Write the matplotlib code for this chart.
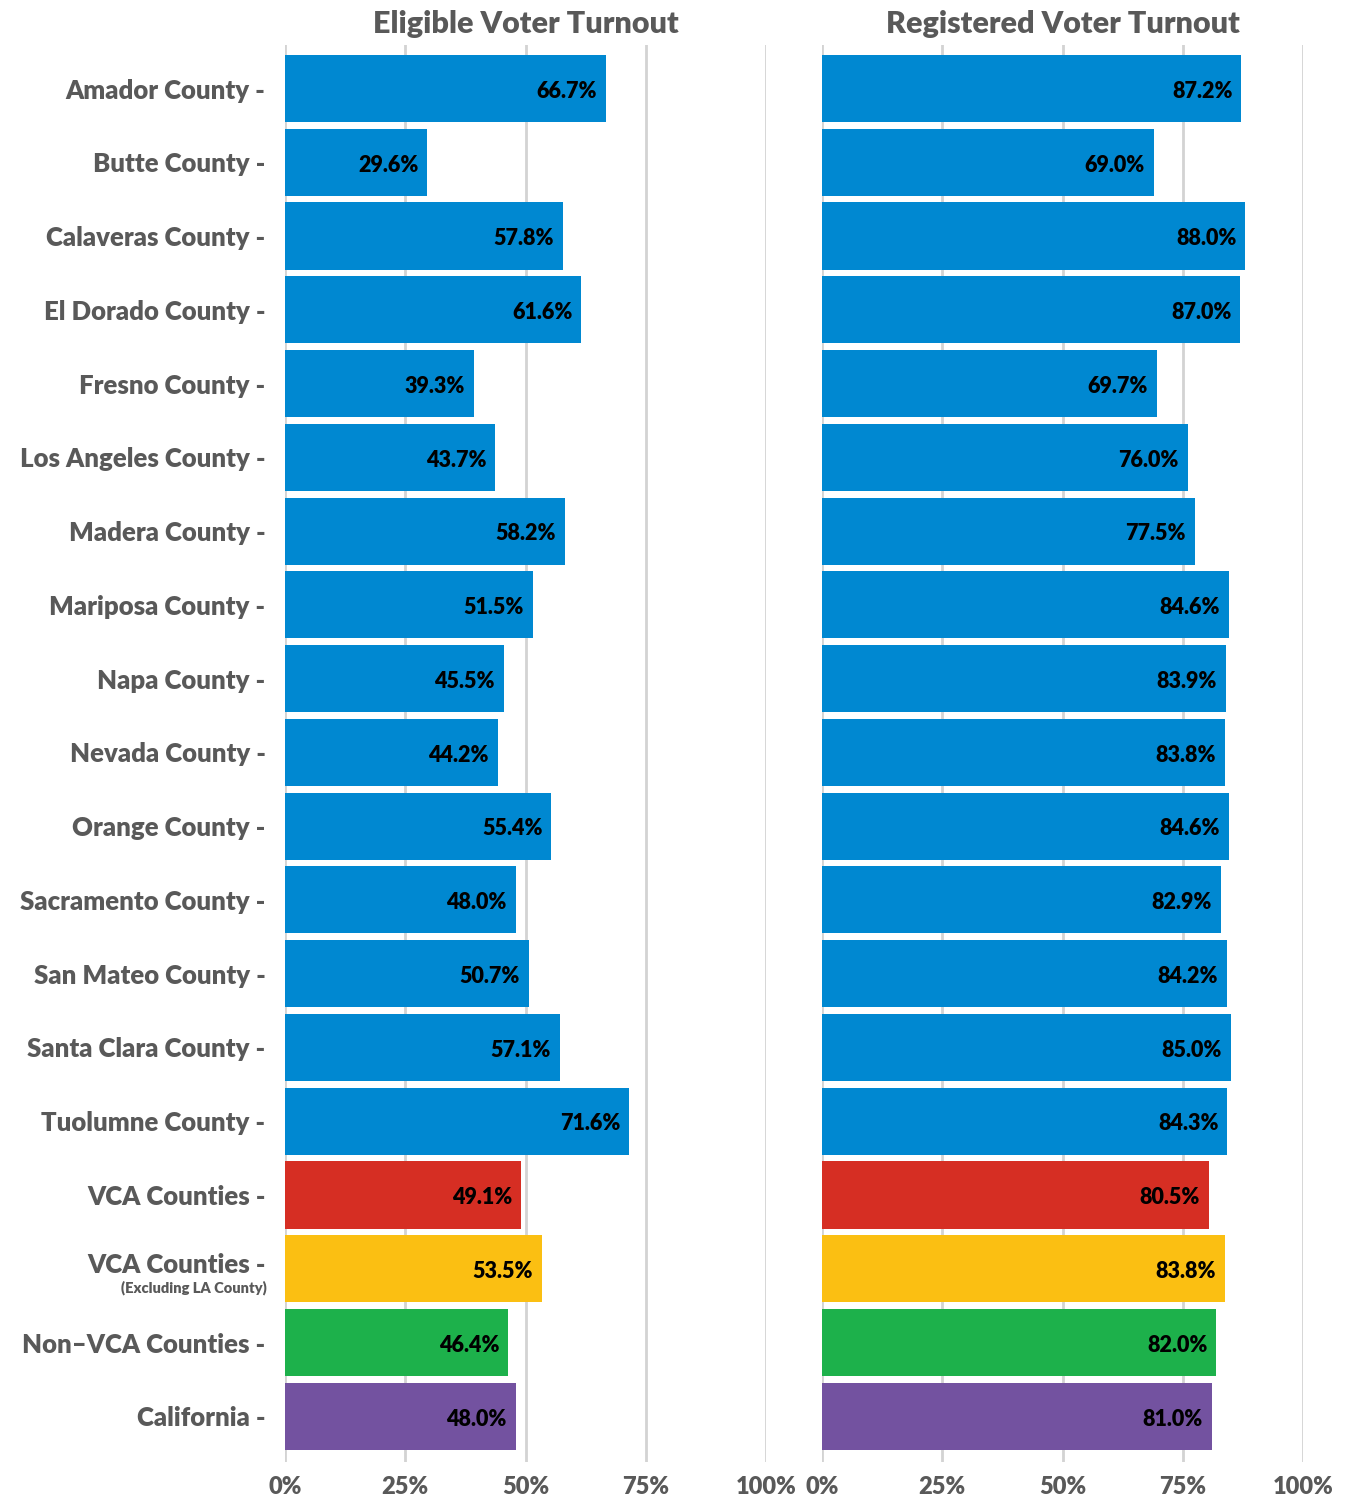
import matplotlib
matplotlib.use("Agg")
import matplotlib.pyplot as plt
from matplotlib.ticker import FixedLocator

categories = ["Amador County", "Butte County", "Calaveras County", "El Dorado County",
              "Fresno County", "Los Angeles County", "Madera County", "Mariposa County",
              "Napa County", "Nevada County", "Orange County", "Sacramento County",
              "San Mateo County", "Santa Clara County", "Tuolumne County", "VCA Counties",
              "VCA Counties", "Non\u2013VCA Counties", "California"]
sublabels = {16: "(Excluding LA County)"}
eligible = [66.7, 29.6, 57.8, 61.6, 39.3, 43.7, 58.2, 51.5, 45.5, 44.2, 55.4, 48.0,
            50.7, 57.1, 71.6, 49.1, 53.5, 46.4, 48.0]
registered = [87.2, 69.0, 88.0, 87.0, 69.7, 76.0, 77.5, 84.6, 83.9, 83.8, 84.6, 82.9,
              84.2, 85.0, 84.3, 80.5, 83.8, 82.0, 81.0]
titles = ["Eligible Voter Turnout", "Registered Voter Turnout"]
xticks = [0, 25, 50, 75, 100]
xticklabels = ["0%", "25%", "50%", "75%", "100%"]

BLUE, RED, YELLOW, GREEN, PURPLE = "#0088D1", "#D62E23", "#FBBF12", "#1DB14B", "#7352A0"
colors = [BLUE] * 15 + [RED, YELLOW, GREEN, PURPLE]
GRAY = "#595959"
FONT = "Lato"
W = "heavy"

fig = plt.figure(figsize=(13.45, 14.99), dpi=100)
ax_l = fig.add_axes([285 / 1345, 1 - 1462 / 1499, 481 / 1345, 1417 / 1499])
ax_r = fig.add_axes([822 / 1345, 1 - 1462 / 1499, 481 / 1345, 1417 / 1499])

ypos = list(range(len(categories)))
for ax, vals, title in [(ax_l, eligible, titles[0]), (ax_r, registered, titles[1])]:
    ax.barh(ypos, vals, height=0.91, color=colors, zorder=2)
    ax.set_xlim(0, 100)
    ax.set_ylim(18.62, -0.59)
    ax.xaxis.set_major_locator(FixedLocator(xticks))
    ax.set_xticklabels(xticklabels, fontfamily=FONT, fontweight=W,
                       fontsize=17, color=GRAY)
    ax.tick_params(axis="x", length=0, pad=10)
    ax.grid(axis="x", color="#D3D3D3", linewidth=2, zorder=0)
    for s in ax.spines.values():
        s.set_visible(False)
    ax.set_title(title, fontfamily=FONT, fontweight=W, fontsize=22,
                 color=GRAY, pad=9)
    for y, v in zip(ypos, vals):
        ax.annotate(f"{v:.1f}%", xy=(v, y), xytext=(-6.5, -2), textcoords="offset points",
                    ha="right", va="center", fontfamily=FONT, fontweight=W,
                    fontsize=15.5, color="black")

ax_l.set_yticks(ypos)
ax_l.set_yticklabels(["" if i in sublabels else c + " -" for i, c in enumerate(categories)],
                     fontfamily=FONT, fontweight=W, fontsize=18.5, color=GRAY)
ax_l.tick_params(axis="y", length=0, pad=14)
ax_r.set_yticks([])
ax_r.tick_params(axis="y", length=0)

for idx, txt in sublabels.items():
    ax_l.annotate(categories[idx] + " -", xy=(0, idx), xycoords=("axes fraction", "data"),
                  xytext=(-14, 3), textcoords="offset points", ha="right", va="center",
                  fontfamily=FONT, fontweight=W, fontsize=18.5, color=GRAY)
    ax_l.annotate(txt, xy=(0, idx), xycoords=("axes fraction", "data"),
                  xytext=(-13, -14), textcoords="offset points", ha="right", va="center",
                  fontfamily=FONT, fontweight=W, fontsize=10.5, color=GRAY)

fig.savefig("out.png", dpi=100)
